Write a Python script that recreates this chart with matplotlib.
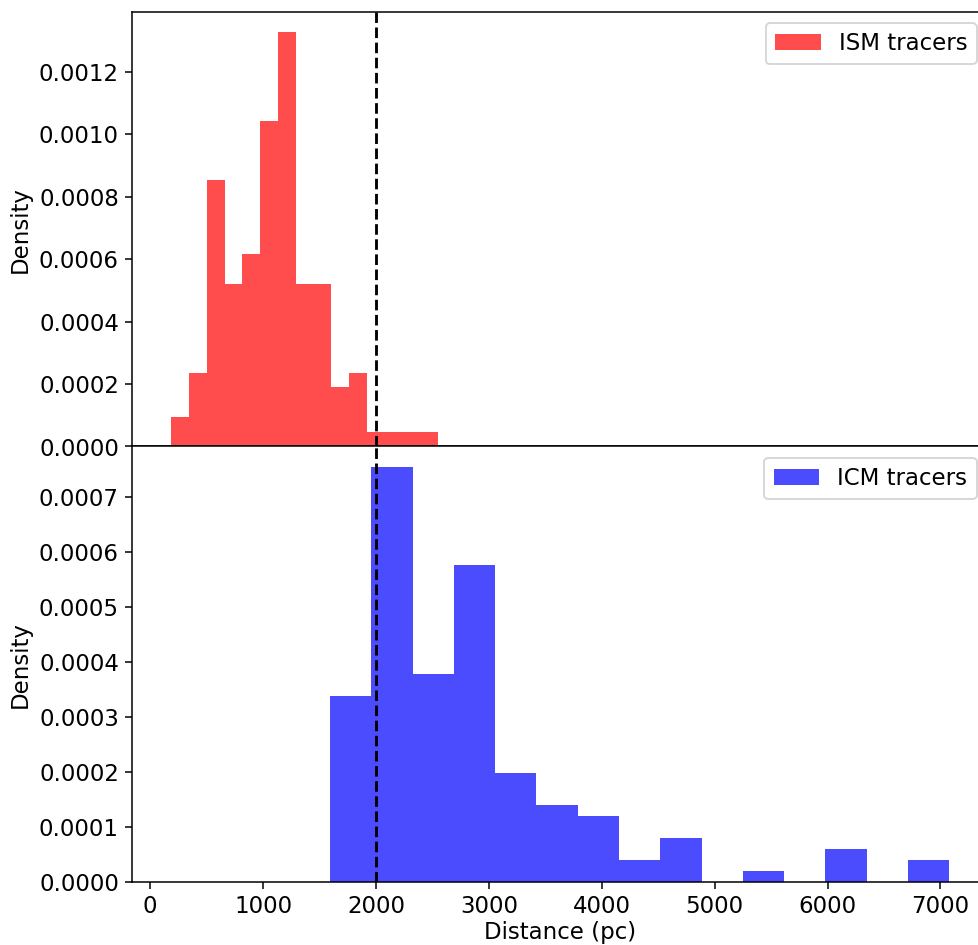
import numpy as np
import matplotlib
matplotlib.use("Agg")
import matplotlib.pyplot as plt

# ISM tracers histogram (15 equal bins)
ism_range = (186, 2548)
ism_counts = [2, 5, 18, 11, 13, 22, 28, 11, 11, 4, 5, 1, 1, 1, 1]

# ICM tracers histogram (15 equal bins)
icm_range = (1594, 7077)
icm_counts = [17, 38, 19, 29, 10, 7, 6, 2, 4, 0, 1, 0, 3, 0, 2]

threshold = 2000

plt.rcParams['font.size'] = 12
plt.rcParams['font.family'] = ['DejaVu Sans']

DPI = 137
fig = plt.figure(figsize=(978 / DPI + 1e-4, 945 / DPI + 1e-4), dpi=DPI)

W, H = 978.0, 945.0
left = 132.3 / W
width = (988.0 - 132.3) / W
ax1 = fig.add_axes([left, 1 - 446.5 / H, width, (446.5 - 11.7) / H])
ax2 = fig.add_axes([left, 1 - 881.7 / H, width, (881.7 - 446.5) / H], sharex=ax1)

ism_edges = np.linspace(ism_range[0], ism_range[1], len(ism_counts) + 1)
ism_centers = 0.5 * (ism_edges[:-1] + ism_edges[1:])
icm_edges = np.linspace(icm_range[0], icm_range[1], len(icm_counts) + 1)
icm_centers = 0.5 * (icm_edges[:-1] + icm_edges[1:])

ax1.hist(ism_centers, bins=ism_edges, weights=ism_counts, density=True,
         color='red', alpha=0.7, label='ISM tracers')
ax1.axvline(threshold, color='black', linestyle='--', linewidth=1.5)
ax1.set_ylabel('Density')
ax1.legend(loc='upper right')
ax1.tick_params(axis='x', labelbottom=False)

ax2.hist(icm_centers, bins=icm_edges, weights=icm_counts, density=True,
         color='blue', alpha=0.7, label='ICM tracers')
ax2.axvline(threshold, color='black', linestyle='--', linewidth=1.5)
ax2.set_ylabel('Density')
ax2.set_xlabel('Distance (pc)', labelpad=1.5)
ax2.legend(loc='upper right')

fig.savefig('out.png', dpi=DPI)
